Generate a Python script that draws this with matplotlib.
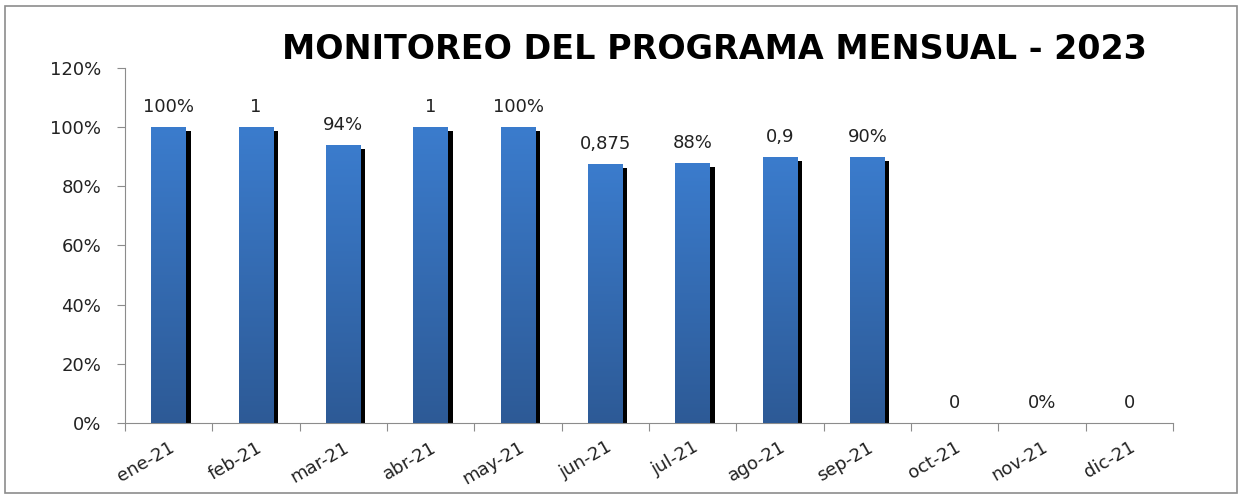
import numpy as np
import matplotlib
matplotlib.use("Agg")
import matplotlib.pyplot as plt
from matplotlib.patches import Rectangle
from matplotlib.colors import LinearSegmentedColormap
import matplotlib.patheffects as pe

months = ["ene-21", "feb-21", "mar-21", "abr-21", "may-21", "jun-21",
          "jul-21", "ago-21", "sep-21", "oct-21", "nov-21", "dic-21"]
values = [1.0, 1.0, 0.94, 1.0, 1.0, 0.875, 0.88, 0.9, 0.9, 0.0, 0.0, 0.0]
value_labels = ["100%", "1", "94%", "1", "100%", "0,875", "88%", "0,9",
                "90%", "0", "0%", "0"]
y_ticks = [0, 0.2, 0.4, 0.6, 0.8, 1.0, 1.2]
y_tick_labels = ["0%", "20%", "40%", "60%", "80%", "100%", "120%"]
title = "MONITOREO DEL PROGRAMA MENSUAL - 2023"

plt.rcParams["font.family"] = ["DejaVu Sans"]

fig = plt.figure(figsize=(12.4, 4.96), dpi=100)
ax = fig.add_axes([0.1008, 0.1472, 0.8452, 0.7157])

# outer chart frame
fig.patches.append(Rectangle((5 / 1240, 3 / 496), 1232 / 1240, 487 / 496,
                             transform=fig.transFigure, fill=False,
                             edgecolor="#8c8c8c", linewidth=1.2))

x = np.arange(len(months))
width = 0.4
bars = ax.bar(x, values, width=width, color="#3a76c4", zorder=2)

grad = LinearSegmentedColormap.from_list("bluegrad", ["#2d5a96", "#3b7ccd"])
gradient = np.linspace(0, 1, 256).reshape(-1, 1)
for b in bars:
    h = b.get_height()
    if h <= 0:
        continue
    b.set_path_effects([pe.SimplePatchShadow(offset=(3.2, -3.0),
                                             shadow_rgbFace="black",
                                             alpha=1.0),
                        pe.Normal()])
    im = ax.imshow(gradient, cmap=grad, origin="lower", aspect="auto",
                   extent=(b.get_x(), b.get_x() + b.get_width(), 0, h),
                   zorder=3, interpolation="bicubic")
    im.set_clip_path(b)

for xi, v, lab in zip(x, values, value_labels):
    ax.annotate(lab, (xi, v), xytext=(0, 8), textcoords="offset points",
                ha="center", va="bottom", fontsize=13, color="#222222")

ax.set_xlim(-0.5, len(months) - 0.5)
ax.set_ylim(0, 1.2)
ax.set_yticks(y_ticks)
ax.set_yticklabels(y_tick_labels, fontsize=13, color="#222222")
ax.set_xticks(np.arange(len(months) + 1) - 0.5)
ax.set_xticklabels([])
ax.set_xticks(x, minor=True)
ax.set_xticklabels(months, minor=True, rotation=30, ha="right",
                   rotation_mode="anchor", fontsize=13, color="#222222")
ax.tick_params(axis="x", which="minor", length=0, pad=11)
ax.tick_params(axis="x", which="major", length=6, direction="out",
               color="#8c8c8c")
ax.tick_params(axis="y", length=6, direction="out", color="#8c8c8c", pad=11)

for s in ("top", "right"):
    ax.spines[s].set_visible(False)
for s in ("left", "bottom"):
    ax.spines[s].set_color("#8c8c8c")

fig.text(0.576, 0.901, title, ha="center", va="center", fontsize=24,
         fontweight="bold", family=["DejaVu Sans"], color="black")

fig.savefig("out.png", dpi=100)
